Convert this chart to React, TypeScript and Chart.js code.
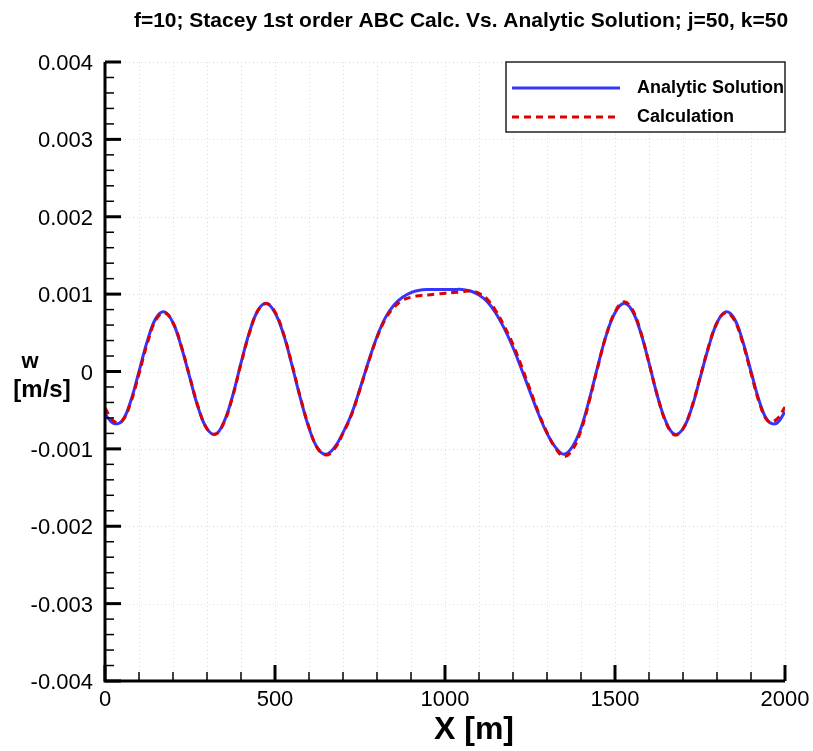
import React, { useEffect, useRef } from "react";
import { Chart, registerables } from "chart.js";

Chart.register(...registerables);

const TITLE = "f=10; Stacey 1st order ABC Calc. Vs. Analytic Solution; j=50, k=50";
const SERIES_NAMES = ["Analytic Solution", "Calculation"];
const X_TITLE = "X [m]";
const Y_TITLE_TOP = "w";
const Y_TITLE_BOTTOM = "[m/s]";

const X_M = [
  0, 25, 50, 75, 100, 125, 150, 175, 200, 225, 250, 275, 300, 325, 350, 375, 400, 425, 450, 475,
  500, 525, 550, 575, 600, 625, 650, 675, 700, 725, 750, 775, 800, 825, 850, 875, 900, 925, 950, 975,
  1000, 1025, 1050, 1075, 1100, 1125, 1150, 1175, 1200, 1225, 1250, 1275, 1300, 1325, 1350, 1375,
  1400, 1425, 1450, 1475, 1500, 1525, 1550, 1575, 1600, 1625, 1650, 1675, 1700, 1725, 1750, 1775,
  1800, 1825, 1850, 1875, 1900, 1925, 1950, 1975, 2000,
];

const ANALYTIC_W = [
  -0.00055, -0.00067, -0.00064, -0.00039, 0.0, 0.0004, 0.00069, 0.00077, 0.00063, 0.00031,
  -0.00009, -0.00048, -0.00074, -0.00081, -0.00065, -0.00032, 0.00011, 0.00051, 0.00079, 0.00088,
  0.00076, 0.00048, 0.00008, -0.00035, -0.00073, -0.00099, -0.00107, -0.00098, -0.00079, -0.00055,
  -0.00022, 0.00013, 0.00045, 0.0007, 0.00086, 0.00096, 0.00102, 0.00105, 0.00106, 0.00106,
  0.00106, 0.00106, 0.00106, 0.00104, 0.00099, 0.0009, 0.00075, 0.00055, 0.00031, 0.00003,
  -0.00026, -0.00055, -0.0008, -0.00098, -0.00107, -0.00097, -0.00073, -0.00035, 0.00008, 0.00048,
  0.00076, 0.00088, 0.00079, 0.00051, 0.00011, -0.00032, -0.00065, -0.00081, -0.00074, -0.00048,
  -0.00009, 0.00031, 0.00063, 0.00077, 0.00069, 0.0004, 0.0, -0.00039, -0.00064, -0.00067, -0.00052,
];

const CALC_W = [
  -0.00047, -0.00064, -0.00064, -0.00041, -0.00003, 0.00037, 0.00067, 0.00076, 0.00063, 0.00032,
  -0.00008, -0.00047, -0.00074, -0.00081, -0.00066, -0.00033, 0.0001, 0.0005, 0.00079, 0.00088,
  0.00077, 0.00049, 0.00009, -0.00034, -0.00072, -0.00099, -0.00108, -0.001, -0.0008, -0.00056,
  -0.00023, 0.00012, 0.00044, 0.00068, 0.00083, 0.00092, 0.00096, 0.00098, 0.00099, 0.001,
  0.00101, 0.00102, 0.00103, 0.00104, 0.00101, 0.00093, 0.00078, 0.00058, 0.00035, 0.00007,
  -0.00023, -0.00053, -0.00079, -0.00099, -0.0011, -0.00101, -0.00076, -0.00037, 0.00007, 0.00048,
  0.00077, 0.0009, 0.00081, 0.00052, 0.00011, -0.00032, -0.00066, -0.00082, -0.00074, -0.00047,
  -0.00008, 0.00032, 0.00063, 0.00076, 0.00067, 0.00038, -0.00002, -0.00041, -0.00064, -0.00062, -0.00046,
];

const X_MAJOR = [0, 500, 1000, 1500, 2000];
const X_MAJOR_LABELS = ["0", "500", "1000", "1500", "2000"];
const X_MINOR = [100, 200, 300, 400, 600, 700, 800, 900, 1100, 1200, 1300, 1400, 1600, 1700, 1800, 1900];
const Y_MAJOR = [-0.004, -0.003, -0.002, -0.001, 0, 0.001, 0.002, 0.003, 0.004];
const Y_MAJOR_LABELS = ["-0.004", "-0.003", "-0.002", "-0.001", "0", "0.001", "0.002", "0.003", "0.004"];
const Y_MINOR_STEP = 0.0002;

const BLUE = "#3535ff";
const RED = "#dd0000";
const FONT = '"Liberation Sans", Arial, Helvetica, sans-serif';

const decorPlugin = {
  id: "decor",
  beforeDatasetsDraw(chart: any) {
    const { ctx, chartArea: a, scales } = chart;
    const xs = scales.x;
    const ys = scales.y;
    ctx.save();
    ctx.strokeStyle = "#dadada";
    ctx.lineWidth = 1;
    ctx.setLineDash([1, 3]);
    for (const v of [...X_MAJOR, ...X_MINOR]) {
      const px = Math.round(xs.getPixelForValue(v)) + 0.5;
      ctx.beginPath();
      ctx.moveTo(px, a.top);
      ctx.lineTo(px, a.bottom);
      ctx.stroke();
    }
    for (const v of Y_MAJOR) {
      const py = Math.round(ys.getPixelForValue(v)) + 0.5;
      ctx.beginPath();
      ctx.moveTo(a.left, py);
      ctx.lineTo(a.right, py);
      ctx.stroke();
    }
    ctx.restore();
  },
  afterDatasetsDraw(chart: any) {
    const { ctx, chartArea: a, scales } = chart;
    const xs = scales.x;
    const ys = scales.y;
    ctx.save();
    ctx.setLineDash([]);
    ctx.strokeStyle = "#000";
    ctx.fillStyle = "#000";

    // axis lines
    ctx.lineWidth = 3;
    ctx.beginPath();
    ctx.moveTo(a.left, a.top);
    ctx.lineTo(a.left, a.bottom + 1.5);
    ctx.moveTo(a.left - 1.5, a.bottom);
    ctx.lineTo(a.right, a.bottom);
    ctx.stroke();

    // y ticks (inward)
    ctx.lineWidth = 3;
    for (const v of Y_MAJOR) {
      const py = ys.getPixelForValue(v);
      ctx.beginPath();
      ctx.moveTo(a.left, py);
      ctx.lineTo(a.left + 16, py);
      ctx.stroke();
    }
    ctx.lineWidth = 1.5;
    for (let i = 0; i <= 40; i++) {
      const v = -0.004 + i * Y_MINOR_STEP;
      if (i % 5 === 0) continue;
      const py = ys.getPixelForValue(v);
      ctx.beginPath();
      ctx.moveTo(a.left, py);
      ctx.lineTo(a.left + 9, py);
      ctx.stroke();
    }
    // x ticks (inward)
    ctx.lineWidth = 3;
    for (const v of X_MAJOR) {
      const px = xs.getPixelForValue(v);
      ctx.beginPath();
      ctx.moveTo(px, a.bottom);
      ctx.lineTo(px, a.bottom - 16);
      ctx.stroke();
    }
    ctx.lineWidth = 1.5;
    for (const v of X_MINOR) {
      const px = xs.getPixelForValue(v);
      ctx.beginPath();
      ctx.moveTo(px, a.bottom);
      ctx.lineTo(px, a.bottom - 9);
      ctx.stroke();
    }

    // tick labels
    ctx.font = `22px ${FONT}`;
    ctx.textBaseline = "alphabetic";
    ctx.textAlign = "right";
    Y_MAJOR.forEach((v, i) => {
      ctx.fillText(Y_MAJOR_LABELS[i], a.left - 12, ys.getPixelForValue(v) + 8);
    });
    ctx.textAlign = "center";
    X_MAJOR.forEach((v, i) => {
      ctx.fillText(X_MAJOR_LABELS[i], xs.getPixelForValue(v), a.bottom + 25);
    });

    // axis titles
    ctx.font = `bold 32px ${FONT}`;
    ctx.textAlign = "center";
    ctx.fillText(X_TITLE, 474, 739);
    ctx.font = `bold 22px ${FONT}`;
    ctx.fillText(Y_TITLE_TOP, 30, 368);
    ctx.font = `bold 24px ${FONT}`;
    ctx.fillText(Y_TITLE_BOTTOM, 42, 397);

    // title
    ctx.font = `bold 21px ${FONT}`;
    ctx.fillText(TITLE, 461, 27);

    // legend
    const lx = 506, ly = 62, lw = 279, lh = 70;
    ctx.fillStyle = "#fff";
    ctx.fillRect(lx, ly, lw, lh);
    ctx.strokeStyle = "#222";
    ctx.lineWidth = 1.5;
    ctx.strokeRect(lx, ly, lw, lh);
    ctx.lineWidth = 3;
    ctx.strokeStyle = BLUE;
    ctx.beginPath();
    ctx.moveTo(512, 88);
    ctx.lineTo(620, 88);
    ctx.stroke();
    ctx.strokeStyle = RED;
    ctx.setLineDash([7, 5]);
    ctx.beginPath();
    ctx.moveTo(512, 117);
    ctx.lineTo(620, 117);
    ctx.stroke();
    ctx.setLineDash([]);
    ctx.fillStyle = "#000";
    ctx.font = `bold 18px ${FONT}`;
    ctx.textAlign = "left";
    ctx.textBaseline = "middle";
    ctx.fillText(SERIES_NAMES[0], 637, 88);
    ctx.fillText(SERIES_NAMES[1], 637, 117);
    ctx.restore();
  },
};

export default function App() {
  const ref = useRef<HTMLCanvasElement | null>(null);
  useEffect(() => {
    if (!ref.current) return;
    const chart = new Chart(ref.current, {
      type: "scatter",
      data: {
        datasets: [
          {
            label: SERIES_NAMES[1],
            data: X_M.map((x, i) => ({ x, y: CALC_W[i] })),
            showLine: true,
            borderColor: RED,
            borderWidth: 3,
            borderDash: [7, 5],
            pointRadius: 0,
            tension: 0.4,
            order: 0,
          },
          {
            label: SERIES_NAMES[0],
            data: X_M.map((x, i) => ({ x, y: ANALYTIC_W[i] })),
            showLine: true,
            borderColor: BLUE,
            borderWidth: 3,
            pointRadius: 0,
            tension: 0.4,
            order: 1,
          },
        ],
      },
      options: {
        responsive: false,
        animation: false,
        devicePixelRatio: 1,
        layout: { padding: { left: 105, right: 28, top: 62, bottom: 70 } },
        plugins: { legend: { display: false }, tooltip: { enabled: false }, title: { display: false } },
        scales: {
          x: { type: "linear", min: 0, max: 2000, display: false },
          y: { type: "linear", min: -0.004, max: 0.004, display: false },
        },
      } as any,
      plugins: [decorPlugin],
    });
    return () => chart.destroy();
  }, []);
  return (
    <div style={{ position: "absolute", left: 0, top: 0, width: 813, height: 751, background: "#fff" }}>
      <canvas ref={ref} width={813} height={751} style={{ display: "block" }} />
    </div>
  );
}
